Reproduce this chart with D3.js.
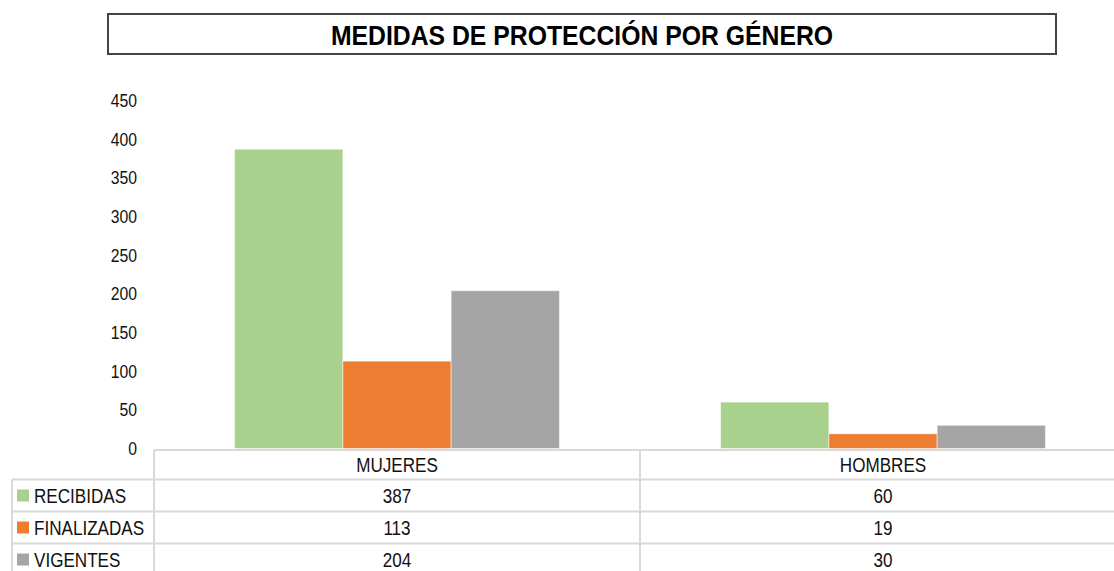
<!DOCTYPE html>
<html>
<head>
<meta charset="utf-8">
<script src="https://cdn.jsdelivr.net/npm/d3@7"></script>
<style>
  html, body { margin: 0; padding: 0; background: #fff; }
  svg { display: block; font-family: "Liberation Sans", Arial, sans-serif; }
</style>
</head>
<body>
<svg id="chart" width="1114" height="571"></svg>
<script>
const title = "MEDIDAS DE PROTECCIÓN POR GÉNERO";
const categories = ["MUJERES", "HOMBRES"];
const seriesNames = ["RECIBIDAS", "FINALIZADAS", "VIGENTES"];
const recibidas = [387, 60];
const finalizadas = [113, 19];
const vigentes = [204, 30];
const yTicks = [0, 50, 100, 150, 200, 250, 300, 350, 400, 450];
const colors = ["#A9D18E", "#ED7D31", "#A5A5A5"];

const seriesValues = [recibidas, finalizadas, vigentes];
const svg = d3.select("#chart");

function txt(g, x, y, s, size, anchor, weight, color, sx, sy) {
  return g.append("text")
    .attr("transform", `translate(${x},${y}) scale(${sx || 0.9},${sy || 1})`)
    .attr("text-anchor", anchor)
    .attr("dominant-baseline", "central")
    .attr("font-size", size)
    .attr("font-weight", weight || "normal")
    .attr("fill", color || "#111")
    .text(s);
}

// Title box
svg.append("rect").attr("x", 108).attr("y", 14).attr("width", 948).attr("height", 40)
  .attr("fill", "#fff").attr("stroke", "#444").attr("stroke-width", 2);
txt(svg, 582, 35, title, 28, "middle", "bold", "#000", 0.885, 1.02);

// Scales
const x0 = d3.scaleBand().domain(categories).range([154, 1126]).paddingInner(0).paddingOuter(0);
const x1 = d3.scaleBand().domain(seriesNames).range([0, x0.bandwidth()]).paddingInner(0).paddingOuter(0.744);
const y = d3.scaleLinear().domain([0, 450]).range([448.5, 100.5]);

// Y axis labels
const yAxis = d3.axisLeft(y).tickValues(yTicks).tickSize(0).tickPadding(0);
const yg = svg.append("g").attr("transform", "translate(137,0)").call(yAxis);
yg.select(".domain").remove();
yg.selectAll("text").remove();
yg.selectAll(".tick").each(function(d) {
  txt(d3.select(this), 0, 0, d, 17.5, "end", "normal", "#111", 0.9, 1.05);
});

// Bars
const groups = svg.append("g").selectAll("g").data(categories).join("g")
  .attr("transform", d => `translate(${x0(d)},0)`);
groups.selectAll("rect")
  .data((c, ci) => seriesNames.map((s, si) => ({ s, si, v: seriesValues[si][ci] })))
  .join("rect")
  .attr("x", d => x1(d.s))
  .attr("width", x1.bandwidth())
  .attr("y", d => y(d.v))
  .attr("height", d => y(0) - y(d.v))
  .attr("fill", d => colors[d.si])
  .attr("stroke", "rgba(255,255,255,0.5)")
  .attr("stroke-width", 1);

// Data table
const tbl = svg.append("g");
const lineColor = "#d9d9d9";
const headerTop = 450, rowTops = [479.5, 511.5, 543.5], rowH = 32;
const colLeft = 12, colData = x0.range()[0], colRight = x0.range()[1];

// horizontal lines
tbl.append("line").attr("x1", colData).attr("x2", colRight).attr("y1", headerTop).attr("y2", headerTop)
  .attr("stroke", lineColor).attr("stroke-width", 2);
rowTops.concat([rowTops[2] + rowH]).forEach(t => {
  tbl.append("line").attr("x1", colLeft).attr("x2", colRight).attr("y1", t).attr("y2", t)
    .attr("stroke", lineColor).attr("stroke-width", 2);
});
// vertical lines
tbl.append("line").attr("x1", colLeft).attr("x2", colLeft).attr("y1", rowTops[0]).attr("y2", 580)
  .attr("stroke", lineColor).attr("stroke-width", 2);
categories.forEach(c => {
  tbl.append("line").attr("x1", x0(c)).attr("x2", x0(c)).attr("y1", headerTop).attr("y2", 580)
    .attr("stroke", lineColor).attr("stroke-width", 2);
});
tbl.append("line").attr("x1", colRight).attr("x2", colRight).attr("y1", headerTop).attr("y2", 580)
  .attr("stroke", lineColor).attr("stroke-width", 2);

// header labels
categories.forEach(c => {
  txt(tbl, x0(c) + x0.bandwidth() / 2, (headerTop + rowTops[0]) / 2 + 0.5, c, 19, "middle", "normal", "#111", 0.9, 1.08);
});
// rows
seriesNames.forEach((s, si) => {
  const cy = rowTops[si] + rowH / 2;
  tbl.append("rect").attr("x", 17).attr("y", cy - 6).attr("width", 12).attr("height", 12)
    .attr("fill", colors[si]);
  txt(tbl, 34, cy, s, 19, "start", "normal", "#111", 0.9, 1.08);
  categories.forEach((c, ci) => {
    txt(tbl, x0(c) + x0.bandwidth() / 2, cy, seriesValues[si][ci], 19, "middle", "normal", "#111", 0.9, 1.08);
  });
});
</script>
</body>
</html>
